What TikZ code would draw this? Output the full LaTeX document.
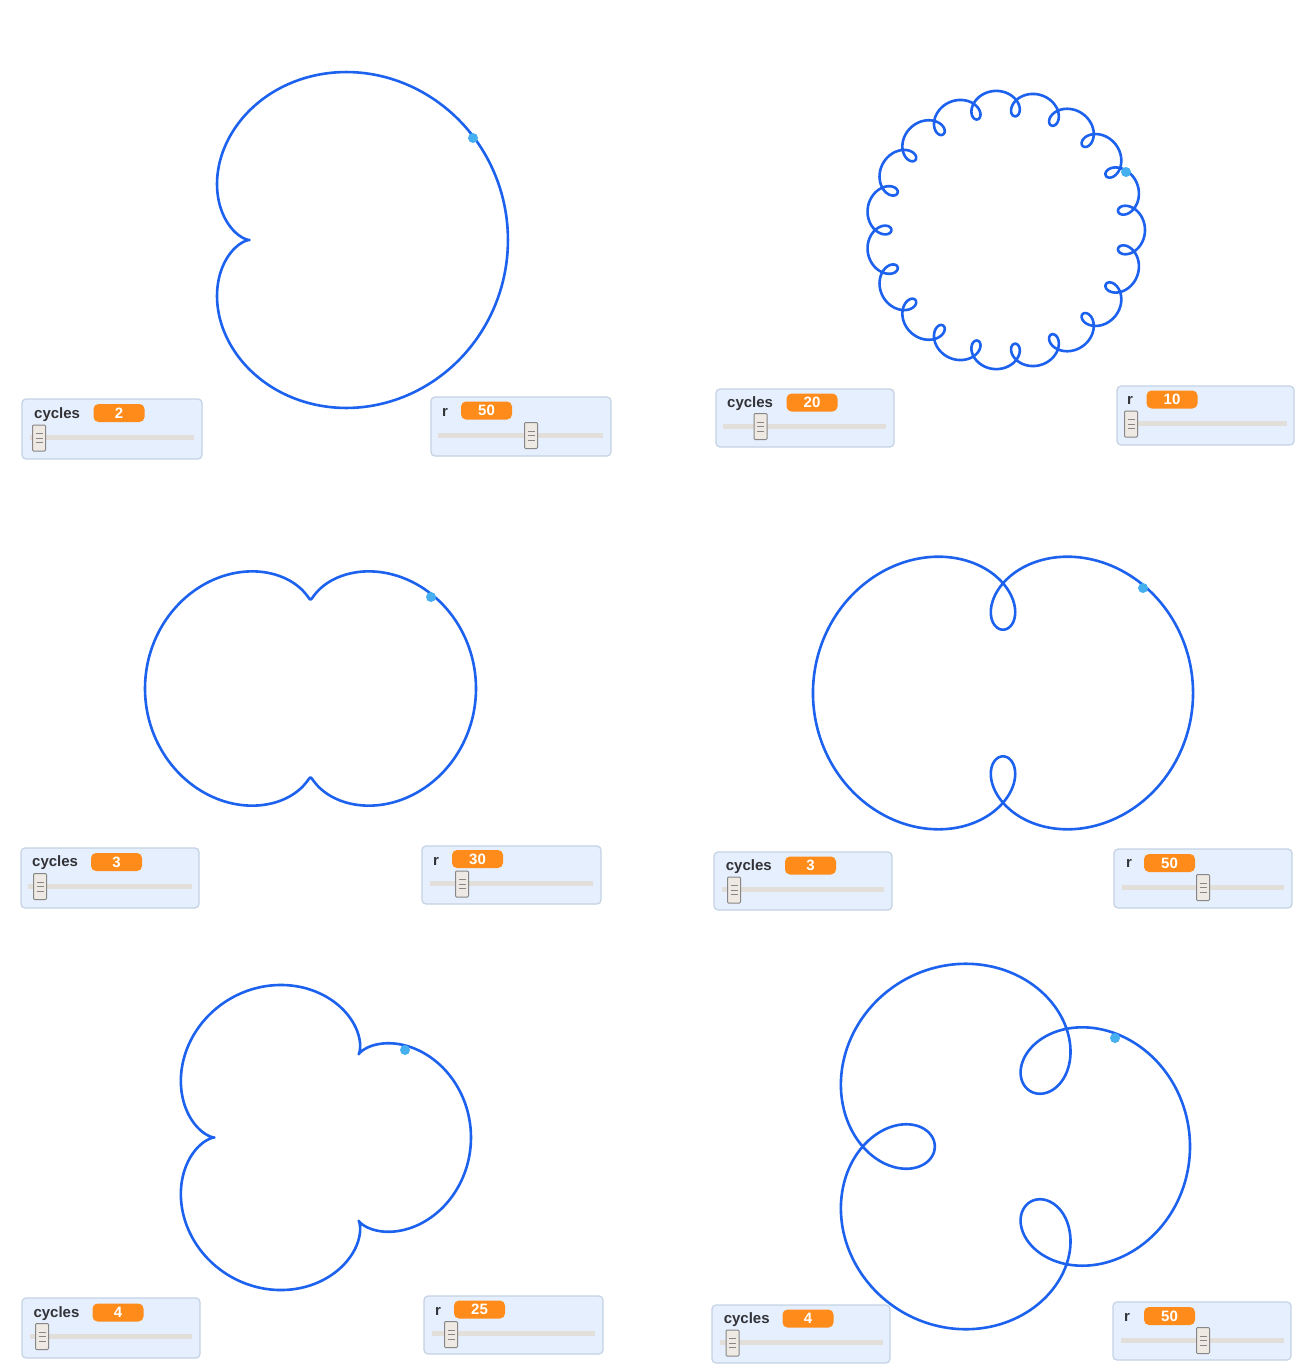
\documentclass[tikz,border=0pt]{standalone}
\usepackage{fontspec}
\setmainfont{Liberation Sans}
\definecolor{curveblue}{RGB}{28,98,238}
\definecolor{dotblue}{RGB}{70,175,240}
\definecolor{boxfill}{RGB}{229,239,253}
\definecolor{boxline}{RGB}{196,210,228}
\definecolor{labelgray}{RGB}{50,50,55}
\definecolor{badgeor}{RGB}{255,140,26}
\definecolor{trackc}{RGB}{226,222,218}
\definecolor{handlefill}{RGB}{238,233,226}
\definecolor{handleline}{RGB}{135,135,135}
\newcommand\epicurve[6]{%
  \draw[curve] plot[domain=0:360, samples=#6, smooth, variable=\t]
    ({#1+#3*(100*cos(\t)+#5*cos(#4*\t))},{#2-#3*(100*sin(\t)+#5*sin(#4*\t))});}
\begin{document}
\begin{tikzpicture}[
  x=1pt, y=-1pt,
  curve/.style={draw=curveblue, line width=2.6pt, line join=round},
  pen/.style={circle, fill=dotblue, inner sep=0pt, minimum size=10pt},
  wbox/.style={draw=boxline, fill=boxfill, rounded corners=4pt, line width=1.2pt, inner sep=0pt},
  wlabel/.style={text=labelgray, font=\fontsize{15}{15}\selectfont\bfseries, inner sep=0pt, anchor=base west},
  badge/.style={fill=badgeor, rounded corners=5pt, text=white, font=\fontsize{15}{15}\selectfont\bfseries, inner sep=0pt, minimum width=51pt, minimum height=18pt},
  track/.style={draw=trackc, line width=5pt},
  handle/.style={draw=handleline, fill=handlefill, line width=1pt, minimum width=13pt, minimum height=26pt, inner sep=0pt, rounded corners=1pt,
    path picture={\foreach \d in {-4.5,0,4.5} \draw[handleline, line width=0.9pt] ([xshift=-3.5pt,yshift=\d pt]path picture bounding box.center) -- ++(7pt,0pt);}}
]
\useasboundingbox[fill=white] (0,0) rectangle (1306,1365);

% ---------- Panel 1 ----------
\epicurve{314}{240}{1.293}{2}{50}{500}
\node[pen] (d1) at (473,138) {};
\node[wbox, minimum width=180pt, minimum height=60pt] (c1box) at (112,429) {};
\node[wlabel] (c1lab) at (34,418) {cycles};
\node[badge] (c1val) at (119,413) {2};
\draw[track] (30,437) -- (194,437);
\node[handle] (c1h) at (39,438) {};
\node[wbox, minimum width=180pt, minimum height=59pt] (r1box) at (521,426.5) {};
\node[wlabel] (r1lab) at (442,416) {r};
\node[badge] (r1val) at (486.5,410.5) {50};
\draw[track] (438,435) -- (603,435);
\node[handle] (r1h) at (531,435.5) {};

% ---------- Panel 2 ----------
\epicurve{1005.5}{230}{1.268}{20}{10}{1500}
\node[pen] (d2) at (1126,172) {};
\node[wbox, minimum width=178pt, minimum height=58pt] (c2box) at (805,418) {};
\node[wlabel] (c2lab) at (727,407.5) {cycles};
\node[badge] (c2val) at (812,402.5) {20};
\draw[track] (723,426) -- (886,426);
\node[handle] (c2h) at (760.5,426.5) {};
\node[wbox, minimum width=177pt, minimum height=59pt] (r2box) at (1205.5,415.5) {};
\node[wlabel] (r2lab) at (1127,404) {r};
\node[badge] (r2val) at (1172,399.5) {10};
\draw[track] (1125,423) -- (1287,423);
\node[handle] (r2h) at (1131,424) {};

% ---------- Panel 3 ----------
\epicurve{310.5}{688.5}{1.273}{3}{30}{600}
\node[pen] (d3) at (431,597) {};
\node[wbox, minimum width=178pt, minimum height=60pt] (c3box) at (110,878) {};
\node[wlabel] (c3lab) at (32,866.7) {cycles};
\node[badge] (c3val) at (116.5,862) {3};
\draw[track] (28,886) -- (192,886);
\node[handle] (c3h) at (40,886.5) {};
\node[wbox, minimum width=179pt, minimum height=58pt] (r3box) at (511.5,875) {};
\node[wlabel] (r3lab) at (433,865) {r};
\node[badge] (r3val) at (477.5,859) {30};
\draw[track] (430,883) -- (593,883);
\node[handle] (r3h) at (462,884) {};

% ---------- Panel 4 ----------
\epicurve{1003}{693}{1.267}{3}{50}{600}
\node[pen] (d4) at (1143,588) {};
\node[wbox, minimum width=178pt, minimum height=58pt] (c4box) at (803,881) {};
\node[wlabel] (c4lab) at (725.7,870.7) {cycles};
\node[badge] (c4val) at (810.5,865.5) {3};
\draw[track] (722,889) -- (884,889);
\node[handle] (c4h) at (734,890) {};
\node[wbox, minimum width=178pt, minimum height=59pt] (r4box) at (1203,878.5) {};
\node[wlabel] (r4lab) at (1126,867.3) {r};
\node[badge] (r4val) at (1169.5,863) {50};
\draw[track] (1122,887) -- (1284,887);
\node[handle] (r4h) at (1203,887.5) {};

% ---------- Panel 5 ----------
\epicurve{310.6}{1137.5}{1.283}{4}{25}{700}
\node[pen] (d5) at (405,1050) {};
\node[wbox, minimum width=178pt, minimum height=60pt] (c5box) at (111,1328) {};
\node[wlabel] (c5lab) at (33.3,1317.3) {cycles};
\node[badge] (c5val) at (118,1312.5) {4};
\draw[track] (30,1336) -- (192,1336);
\node[handle] (c5h) at (42,1336.5) {};
\node[wbox, minimum width=179pt, minimum height=58pt] (r5box) at (513.5,1325) {};
\node[wlabel] (r5lab) at (435,1315) {r};
\node[badge] (r5val) at (479.5,1309.5) {25};
\draw[track] (432,1333) -- (595,1333);
\node[handle] (r5h) at (451,1334.5) {};

% ---------- Panel 6 ----------
\epicurve{998.6}{1146.5}{1.276}{4}{50}{700}
\node[pen] (d6) at (1115,1038) {};
\node[wbox, minimum width=178pt, minimum height=58pt] (c6box) at (801,1334) {};
\node[wlabel] (c6lab) at (723.6,1323.3) {cycles};
\node[badge] (c6val) at (808,1318.5) {4};
\draw[track] (720,1342) -- (883,1342);
\node[handle] (c6h) at (732.5,1343) {};
\node[wbox, minimum width=178pt, minimum height=58pt] (r6box) at (1202,1331) {};
\node[wlabel] (r6lab) at (1124,1321) {r};
\node[badge] (r6val) at (1169.5,1316) {50};
\draw[track] (1121,1340) -- (1284,1340);
\node[handle] (r6h) at (1203,1340.5) {};
\end{tikzpicture}
\end{document}
